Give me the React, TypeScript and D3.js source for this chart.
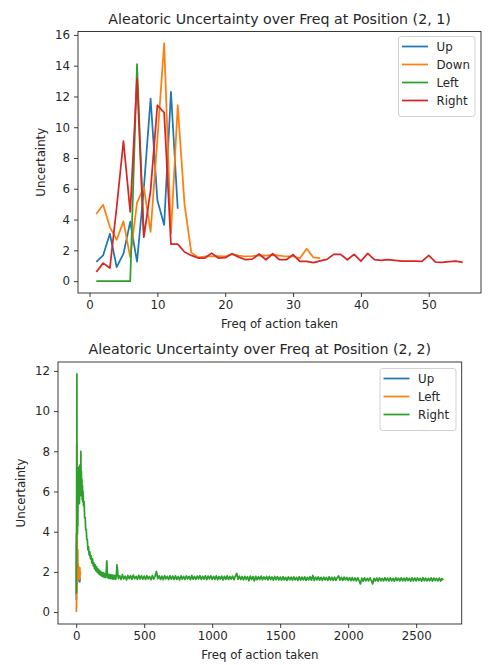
import { useEffect, useRef } from "react";
import * as d3 from "d3";

const COLORS = ["#1f77b4", "#ff7f0e", "#2ca02c", "#d62728"];

// ---- Position (2, 1) ----
const up21 = [1.25, 1.67, 3.08, 0.91, 1.78, 3.86, 1.26, 6.0, 11.86, 5.25, 3.65, 12.3, 4.7];
const down21 = [
  4.36, 4.97, 3.51, 2.69, 3.88, 1.55, 5.08, 6.1, 3.2, 9.2,
  15.45, 3.1, 11.43, 5.0, 1.85, 1.55, 1.6, 1.6, 1.62, 1.6,
  1.75, 1.65, 1.6, 1.62, 1.68, 1.65, 1.7, 1.66, 1.6, 1.6,
  1.48, 2.1, 1.54, 1.5,
];
const left21 = [0, 0, 0, 0, 0, 0, 14.1, 2.9];
const right21 = [
  0.59, 1.17, 0.85, 4.8, 9.1, 4.5, 13.16, 2.86, 5.9, 11.43,
  10.95, 2.4, 2.4, 1.89, 1.67, 1.5, 1.5, 1.82, 1.5, 1.52,
  1.78, 1.56, 1.39, 1.43, 1.76, 1.39, 1.78, 1.39, 1.39, 1.72,
  1.28, 1.28, 1.2, 1.32, 1.41, 1.74, 1.74, 1.39, 1.74, 1.3,
  1.8, 1.39, 1.35, 1.39, 1.35, 1.3, 1.3, 1.3, 1.28, 1.67,
  1.24, 1.22, 1.26, 1.3, 1.22,
];

// ---- Position (2, 2) ----  [freq, value]
const up22: [number, number][] = [
  [1, 0.6], [2, 3.9], [3, 1.0], [4, 2.6], [5, 1.4], [6, 2.2], [8, 1.9], [10, 2.4],
  [12, 1.7], [14, 2.0], [16, 1.6], [18, 1.9], [20, 1.55], [22, 1.8], [24, 1.6],
  [26, 1.5], [28, 1.7],
];
const left22: [number, number][] = [
  [1, 0.0], [2, 0.6], [3, 0.2], [4, 8.4], [5, 3.2], [6, 1.0], [7, 4.6], [8, 2.9],
  [9, 1.8], [10, 2.2], [11, 1.9], [12, 3.1], [13, 1.7], [14, 2.2], [15, 1.8],
  [16, 2.1], [17, 1.6], [18, 2.0], [19, 2.25], [20, 1.7], [21, 1.9], [22, 2.2],
  [23, 1.8], [24, 2.1], [25, 1.65], [26, 1.9], [27, 2.2], [28, 1.75], [29, 2.0],
  [30, 1.85],
];
const rightHead22: [number, number][] = [
  [1, 0.9], [2, 3.5], [3, 2.2], [4, 6.0], [5, 11.85], [6, 4.2], [7, 6.5], [8, 5.1],
  [9, 3.9], [10, 5.8], [12, 4.3], [14, 6.9], [16, 5.6], [18, 7.2], [20, 6.1],
  [22, 6.8], [24, 5.4], [26, 7.3], [28, 6.2], [30, 6.9], [32, 5.8], [34, 8.0],
  [36, 6.4], [38, 7.0], [40, 5.9], [42, 6.6], [44, 5.6], [46, 6.3], [48, 5.5],
  [50, 6.0], [54, 5.3], [58, 5.5], [62, 4.7], [66, 4.7], [70, 4.1], [74, 4.1],
  [78, 3.6], [82, 3.6], [86, 3.1], [90, 3.25], [95, 2.85], [100, 3.0], [105, 2.65],
  [110, 2.8], [115, 2.45], [120, 2.65], [125, 2.3], [130, 2.45], [135, 2.15],
  [140, 2.35], [145, 2.05], [150, 2.25], [155, 1.98], [160, 2.15], [165, 1.9],
  [170, 2.08], [175, 1.85], [180, 2.02], [185, 1.8], [190, 1.98], [195, 1.76],
  [200, 1.95], [205, 1.74], [210, 1.92], [215, 1.72], [220, 1.9], [225, 2.55],
  [230, 1.72], [235, 1.88], [240, 1.68], [245, 1.87], [250, 1.66], [255, 1.86],
  [260, 1.67], [265, 1.84], [270, 1.64], [275, 1.83], [280, 1.65], [285, 1.82],
  [290, 1.63], [295, 1.8],
];
// freq 300..2700, every 10
const rightTailStart = 300;
const rightTailStep = 10;
const rightTail22 = [
  2.35, 1.66, 1.80, 1.62, 1.86, 1.65, 1.79, 1.60, 1.82, 1.66,
  1.81, 1.63, 1.84, 1.66, 1.78, 1.62, 1.83, 1.65, 1.80, 1.64,
  1.79, 1.62, 1.81, 1.65, 1.77, 1.61, 1.82, 1.64, 1.78, 2.02,
  1.66, 1.80, 1.63, 1.79, 1.61, 1.81, 1.65, 1.78, 1.62, 1.80,
  1.64, 1.79, 1.62, 1.81, 1.63, 1.77, 1.60, 1.80, 1.64, 1.78,
  1.62, 1.80, 1.65, 1.78, 1.61, 1.82, 1.64, 1.77, 1.63, 1.79,
  1.65, 1.81, 1.62, 1.78, 1.64, 1.80, 1.61, 1.79, 1.66, 1.80,
  1.62, 1.78, 1.63, 1.80, 1.61, 1.77, 1.64, 1.79, 1.60, 1.78,
  1.63, 1.80, 1.62, 1.77, 1.64, 1.79, 1.61, 1.78, 1.93, 1.63,
  1.79, 1.62, 1.77, 1.60, 1.78, 1.63, 1.76, 1.56, 1.79, 1.62,
  1.77, 1.55, 1.78, 1.61, 1.76, 1.62, 1.79, 1.60, 1.75, 1.63,
  1.77, 1.60, 1.78, 1.62, 1.75, 1.59, 1.77, 1.61, 1.76, 1.60,
  1.74, 1.59, 1.76, 1.60, 1.73, 1.58, 1.75, 1.61, 1.74, 1.59,
  1.75, 1.60, 1.73, 1.58, 1.76, 1.59, 1.74, 1.60, 1.75, 1.58,
  1.73, 1.60, 1.76, 1.59, 1.82, 1.58, 1.74, 1.60, 1.75, 1.59,
  1.73, 1.57, 1.74, 1.60, 1.72, 1.58, 1.75, 1.59, 1.73, 1.57,
  1.74, 1.58, 1.72, 1.80, 1.59, 1.73, 1.57, 1.74, 1.60, 1.72,
  1.58, 1.71, 1.56, 1.72, 1.57, 1.70, 1.55, 1.71, 1.56, 1.40,
  1.69, 1.54, 1.70, 1.56, 1.68, 1.55, 1.70, 1.57, 1.40, 1.68,
  1.55, 1.69, 1.54, 1.70, 1.56, 1.68, 1.55, 1.71, 1.57, 1.69,
  1.55, 1.70, 1.56, 1.68, 1.54, 1.71, 1.57, 1.69, 1.55, 1.70,
  1.56, 1.69, 1.55, 1.71, 1.57, 1.68, 1.54, 1.70, 1.56, 1.69,
  1.55, 1.70, 1.57, 1.68, 1.54, 1.71, 1.56, 1.69, 1.55, 1.68,
  1.56, 1.70, 1.54, 1.69, 1.57, 1.67, 1.55, 1.69, 1.54, 1.67,
  1.58,
];

const xTicks21 = [0, 10, 20, 30, 40, 50];
const yTicks21 = [0, 2, 4, 6, 8, 10, 12, 14, 16];
const xTicks22 = [0, 500, 1000, 1500, 2000, 2500];
const yTicks22 = [0, 2, 4, 6, 8, 10, 12];

type Series = { name: string; color: string; points: [number, number][] };
type Panel = {
  title: string;
  box: { left: number; right: number; top: number; bottom: number };
  series: Series[];
  xTicks: number[];
  yTicks: number[];
  legend: { x: number; y: number; w: number };
  yLabelX: number;
};

const FONT = "DejaVu Sans, sans-serif";
const TEXT = "#262626";

function drawPanel(svg: d3.Selection<SVGSVGElement, unknown, null, undefined>, p: Panel) {
  const all = p.series.flatMap((s) => s.points);
  const [x0, x1] = d3.extent(all, (d) => d[0]) as [number, number];
  const [y0, y1] = d3.extent(all, (d) => d[1]) as [number, number];
  const mx = (x1 - x0) * 0.05;
  const my = (y1 - y0) * 0.05;

  const x = d3.scaleLinear().domain([x0 - mx, x1 + mx]).range([p.box.left, p.box.right]);
  const y = d3.scaleLinear().domain([y0 - my, y1 + my]).range([p.box.bottom, p.box.top]);

  const g = svg.append("g");

  const line = d3
    .line<[number, number]>()
    .x((d) => x(d[0]))
    .y((d) => y(d[1]));

  p.series.forEach((s) => {
    g.append("path")
      .datum(s.points)
      .attr("d", line)
      .attr("fill", "none")
      .attr("stroke", s.color)
      .attr("stroke-width", 1.75)
      .attr("stroke-linejoin", "round");
  });

  // axes
  const xAxis = g
    .append("g")
    .attr("transform", `translate(0,${p.box.bottom})`)
    .call(d3.axisBottom(x).tickValues(p.xTicks).tickSize(4).tickPadding(4).tickFormat(d3.format("d")));
  const yAxis = g
    .append("g")
    .attr("transform", `translate(${p.box.left},0)`)
    .call(d3.axisLeft(y).tickValues(p.yTicks).tickSize(4).tickPadding(4).tickFormat(d3.format("d")));
  [xAxis, yAxis].forEach((a) => {
    a.select(".domain").remove();
    a.selectAll("line").attr("stroke", TEXT).attr("stroke-width", 0.9);
    a.selectAll("text").attr("fill", TEXT).style("font-family", FONT).style("font-size", "11.8px");
  });

  g.append("rect")
    .attr("x", p.box.left)
    .attr("y", p.box.top)
    .attr("width", p.box.right - p.box.left)
    .attr("height", p.box.bottom - p.box.top)
    .attr("fill", "none")
    .attr("stroke", TEXT)
    .attr("stroke-width", 0.9);

  const cx = (p.box.left + p.box.right) / 2;
  g.append("text")
    .attr("x", cx)
    .attr("y", p.box.top - 8)
    .attr("text-anchor", "middle")
    .attr("fill", TEXT)
    .style("font-family", FONT)
    .style("font-size", "14.2px")
    .text(p.title);

  g.append("text")
    .attr("x", cx)
    .attr("y", p.box.bottom + 35)
    .attr("text-anchor", "middle")
    .attr("fill", TEXT)
    .style("font-family", FONT)
    .style("font-size", "11.8px")
    .text("Freq of action taken");

  g.append("text")
    .attr("transform", `translate(${p.yLabelX},${(p.box.top + p.box.bottom) / 2}) rotate(-90)`)
    .attr("text-anchor", "middle")
    .attr("fill", TEXT)
    .style("font-family", FONT)
    .style("font-size", "11.8px")
    .text("Uncertainty");

  // legend
  const rowH = 18;
  const lg = g.append("g").attr("transform", `translate(${p.legend.x},${p.legend.y})`);
  lg.append("rect")
    .attr("width", p.legend.w)
    .attr("height", p.series.length * rowH + 8)
    .attr("rx", 2.5)
    .attr("fill", "white")
    .attr("fill-opacity", 0.8)
    .attr("stroke", "#cccccc")
    .attr("stroke-width", 0.9);
  p.series.forEach((s, i) => {
    const ry = 10 + i * rowH;
    lg.append("line")
      .attr("x1", 3.5)
      .attr("x2", 29.5)
      .attr("y1", ry)
      .attr("y2", ry)
      .attr("stroke", s.color)
      .attr("stroke-width", 1.75);
    lg.append("text")
      .attr("x", 38)
      .attr("y", ry)
      .attr("dy", "0.36em")
      .attr("fill", TEXT)
      .style("font-family", FONT)
      .style("font-size", "11.8px")
      .text(s.name);
  });
}

const seq = (vals: number[]): [number, number][] => vals.map((v, i) => [i + 1, v]);

function App() {
  const svgRef = useRef<SVGSVGElement>(null);

  useEffect(() => {
    const svgElement = svgRef.current;
    if (!svgElement) return;
    const svg = d3.select(svgElement);

    const right22: [number, number][] = [
      ...rightHead22,
      ...rightTail22.map((v, i) => [rightTailStart + i * rightTailStep, v] as [number, number]),
    ];

    drawPanel(svg, {
      title: "Aleatoric Uncertainty over Freq at Position (2, 1)",
      box: { left: 78, right: 481, top: 31.5, bottom: 293 },
      series: [
        { name: "Up", color: COLORS[0], points: seq(up21) },
        { name: "Down", color: COLORS[1], points: seq(down21) },
        { name: "Left", color: COLORS[2], points: seq(left21) },
        { name: "Right", color: COLORS[3], points: seq(right21) },
      ],
      xTicks: xTicks21,
      yTicks: yTicks21,
      legend: { x: 398.5, y: 36.5, w: 76.5 },
      yLabelX: 45,
    });

    drawPanel(svg, {
      title: "Aleatoric Uncertainty over Freq at Position (2, 2)",
      box: { left: 58, right: 461.7, top: 362, bottom: 624 },
      series: [
        { name: "Up", color: COLORS[0], points: up22 },
        { name: "Left", color: COLORS[1], points: left22 },
        { name: "Right", color: COLORS[2], points: right22 },
      ],
      xTicks: xTicks22,
      yTicks: yTicks22,
      legend: { x: 380, y: 368.5, w: 76 },
      yLabelX: 25,
    });

    return () => {
      svg.selectAll("*").remove();
    };
  }, []);

  return (
    <svg
      ref={svgRef}
      width={493}
      height={665}
      style={{ position: "absolute", left: 0, top: 0, background: "white" }}
    ></svg>
  );
}

export default App;
